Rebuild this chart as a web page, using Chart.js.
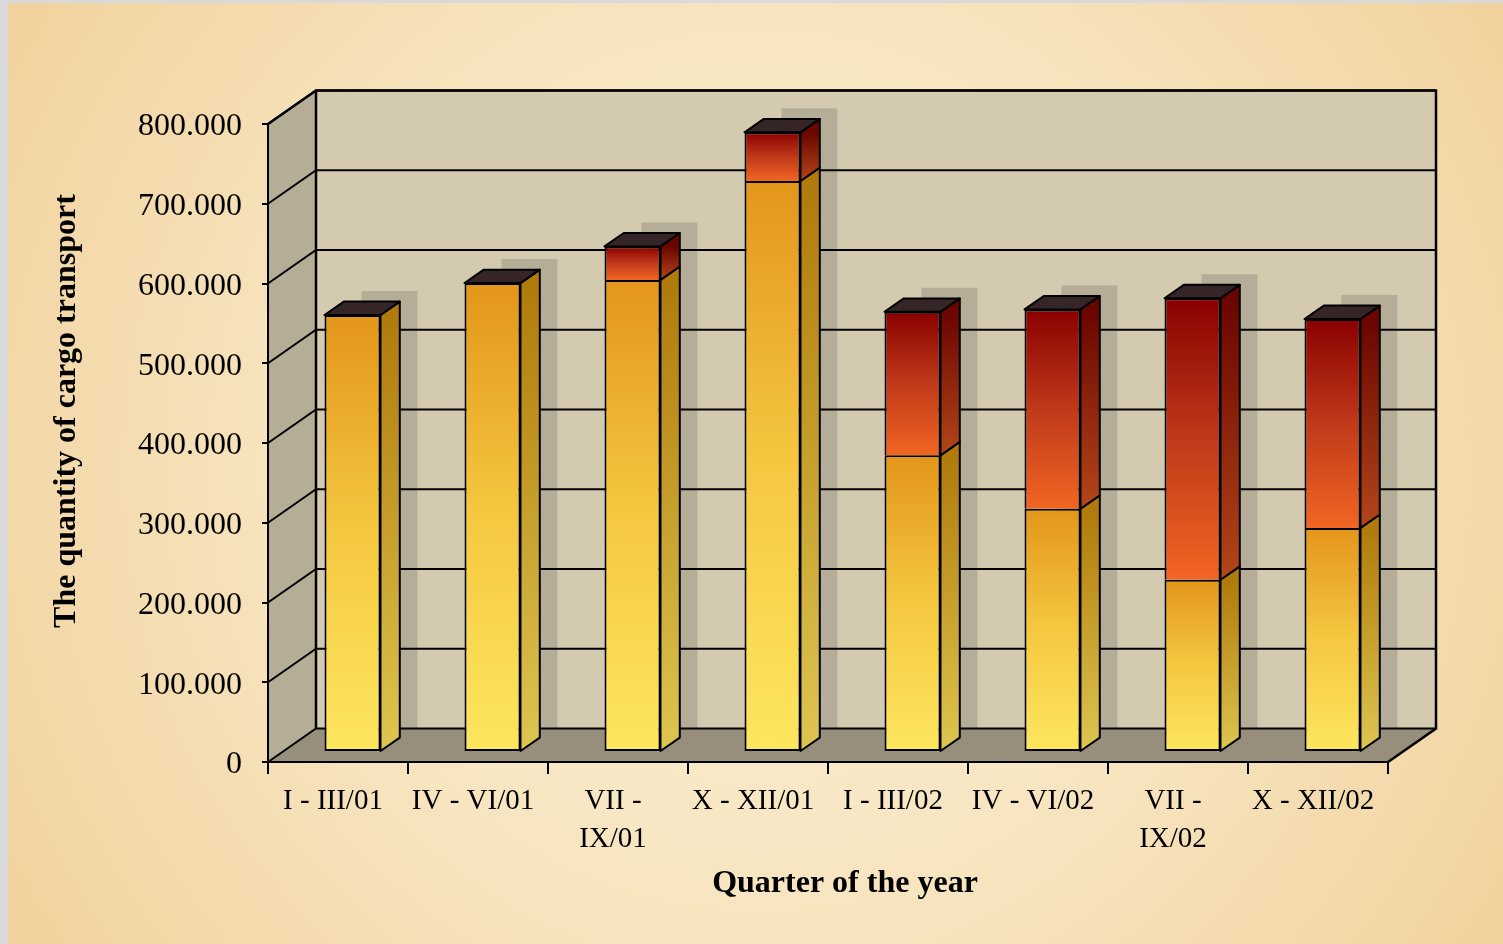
<!DOCTYPE html>
<html>
<head>
<meta charset="utf-8">
<title>Quantity of cargo transport by quarter</title>
<script src="https://cdn.jsdelivr.net/npm/chart.js@4.4.1/dist/chart.umd.min.js"></script>
<style>
    html, body { margin: 0; padding: 0; background: #d9d9d9; }
    #cargoChart { display: block; }
</style>
</head>
<body>
<canvas id="cargoChart" width="1503" height="944"></canvas>
<script>
// quarters, the two long ones wrap onto a second line
const quarters = [
    'I - III/01', 'IV - VI/01', ['VII -', 'IX/01'], 'X - XII/01',
    'I - III/02', 'IV - VI/02', ['VII -', 'IX/02'], 'X - XII/02'
];
// lower (yellow) and upper (red) part of every bar
const lowerPart = [548000, 588000, 592000, 716000, 372000, 305000, 216000, 281000];
const upperPart = [0, 0, 42000, 61000, 180000, 250000, 353000, 262000];
const yTicks = [0, 100000, 200000, 300000, 400000, 500000, 600000, 700000, 800000];

const FONT = "'Times New Roman', 'Liberation Serif', serif";

// fake 3D: depth of the box, where the bars stand in it and how thick they are
const DEPTH = { x: 48, y: -33.5 };
const BAR_SHIFT = { x: 14.5, y: -10 };
const BAR_DEPTH = { x: 19.3, y: -13.4 };
const SHADOW_SHIFT = { x: 37, y: -24 };

const faceColors = [
    { front: ['#fde65f', '#f5c840', '#e3961a'], side: ['#ddc650', '#b07a0c'] },
    { front: ['#f26522', '#c0391a', '#8a0000'], side: ['#b4461a', '#6a0500'] }
];

function formatTick(v) {
    if (v === 0) return '0';
    return Math.round(v / 1000) + '.000';
}

function segmentBounds(datasetIndex, index) {
    const bottom = datasetIndex === 0 ? 0 : lowerPart[index];
    const value = datasetIndex === 0 ? lowerPart[index] : upperPart[index];
    return { bottom, top: bottom + value };
}

function frontGradient(context) {
    const chart = context.chart;
    if (!chart.chartArea) return faceColors[context.datasetIndex].front[0];
    const y = chart.scales.y;
    const seg = segmentBounds(context.datasetIndex, context.dataIndex);
    const cols = faceColors[context.datasetIndex].front;
    const g = chart.ctx.createLinearGradient(0, y.getPixelForValue(seg.bottom), 0, y.getPixelForValue(seg.top));
    g.addColorStop(0, cols[0]);
    g.addColorStop(0.5, cols[1]);
    g.addColorStop(1, cols[2]);
    return g;
}

// front face of one bar segment, moved back into the box
function barBox(el) {
    return {
        left: el.x - el.width / 2 + BAR_SHIFT.x,
        right: el.x + el.width / 2 + BAR_SHIFT.x,
        top: Math.min(el.y, el.base) + BAR_SHIFT.y,
        bottom: Math.max(el.y, el.base) + BAR_SHIFT.y
    };
}

function polygon(ctx, pts, fill, stroke) {
    ctx.beginPath();
    ctx.moveTo(pts[0][0], pts[0][1]);
    for (let i = 1; i < pts.length; i++) ctx.lineTo(pts[i][0], pts[i][1]);
    ctx.closePath();
    if (fill) {
        ctx.fillStyle = fill;
        ctx.fill();
    }
    if (stroke) {
        ctx.strokeStyle = stroke;
        ctx.stroke();
    }
}

function line(ctx, pts) {
    ctx.beginPath();
    ctx.moveTo(pts[0][0], pts[0][1]);
    for (let i = 1; i < pts.length; i++) ctx.lineTo(pts[i][0], pts[i][1]);
    ctx.stroke();
}

// topmost non-empty segment of a category
function topElement(chart, index) {
    for (let d = chart.data.datasets.length - 1; d >= 0; d--) {
        const el = chart.getDatasetMeta(d).data[index];
        if (el && Math.abs(el.base - el.y) > 0.5) return el;
    }
    return null;
}

const box3d = {
    id: 'box3d',
    beforeDraw(chart) {
        const { ctx, chartArea: a, width, height } = chart;
        const yScale = chart.scales.y;
        const dx = DEPTH.x, dy = DEPTH.y;
        ctx.save();

        // page background with the grey frame
        ctx.fillStyle = '#d9d9d9';
        ctx.fillRect(0, 0, width, height);
        const bg = ctx.createRadialGradient(760, 470, 0, 760, 470, 900);
        bg.addColorStop(0, '#faeed4');
        bg.addColorStop(0.5, '#f7e5c0');
        bg.addColorStop(1, '#f1d19c');
        ctx.fillStyle = bg;
        ctx.fillRect(8, 3, width - 8, height - 3);

        // walls and floor
        polygon(ctx, [[a.left, a.top], [a.left + dx, a.top + dy], [a.left + dx, a.bottom + dy], [a.left, a.bottom]], '#b5ad96');
        ctx.fillStyle = '#d3cab0';
        ctx.fillRect(a.left + dx, a.top + dy, a.right - a.left, a.bottom - a.top);
        polygon(ctx, [[a.left, a.bottom], [a.right, a.bottom], [a.right + dx, a.bottom + dy], [a.left + dx, a.bottom + dy]], '#978f7c');

        // bar shadows on the back wall
        ctx.save();
        ctx.beginPath();
        ctx.rect(a.left + dx, a.top + dy, a.right - a.left, a.bottom - a.top);
        ctx.clip();
        ctx.fillStyle = '#b5ad97';
        quarters.forEach((q, i) => {
            const el = topElement(chart, i);
            if (!el) return;
            const b = barBox(el);
            const top = b.top + SHADOW_SHIFT.y;
            ctx.fillRect(b.left + SHADOW_SHIFT.x, top, b.right - b.left, a.bottom + dy - top);
        });
        ctx.restore();

        // grid lines on the left and back wall
        ctx.strokeStyle = '#000';
        ctx.lineWidth = 2;
        yTicks.forEach(v => {
            const py = yScale.getPixelForValue(v);
            line(ctx, [[a.left, py], [a.left + dx, py + dy], [a.right + dx, py + dy]]);
        });

        // outline of the box
        ctx.lineWidth = 2.5;
        line(ctx, [[a.left, a.top], [a.left + dx, a.top + dy], [a.right + dx, a.top + dy], [a.right + dx, a.bottom + dy], [a.right, a.bottom]]);
        line(ctx, [[a.left + dx, a.top + dy], [a.left + dx, a.bottom + dy]]);
        ctx.restore();
    },
    beforeDatasetsDraw(chart) {
        chart.ctx.save();
        chart.ctx.translate(BAR_SHIFT.x, BAR_SHIFT.y);
    },
    afterDatasetsDraw(chart) {
        const ctx = chart.ctx;
        ctx.restore();
        ctx.save();
        ctx.lineWidth = 2;
        ctx.lineJoin = 'round';
        const bx = BAR_DEPTH.x, by = BAR_DEPTH.y;

        // right hand sides of every segment
        chart.data.datasets.forEach((ds, d) => {
            chart.getDatasetMeta(d).data.forEach(el => {
                if (Math.abs(el.base - el.y) < 0.5) return;
                const b = barBox(el);
                const g = ctx.createLinearGradient(0, b.bottom, 0, b.top);
                g.addColorStop(0, faceColors[d].side[0]);
                g.addColorStop(1, faceColors[d].side[1]);
                polygon(ctx, [[b.right, b.top], [b.right + bx, b.top + by], [b.right + bx, b.bottom + by], [b.right, b.bottom]], g, '#000');
            });
        });

        // lid on top of each bar
        quarters.forEach((q, i) => {
            const el = topElement(chart, i);
            if (!el) return;
            const b = barBox(el);
            polygon(ctx, [[b.left, b.top], [b.left + bx, b.top + by], [b.right + bx, b.top + by], [b.right, b.top]], '#362526', '#000');
        });
        ctx.restore();
    },
    afterDraw(chart) {
        const ctx = chart.ctx;
        ctx.save();
        ctx.fillStyle = '#000';
        ctx.font = 'bold 32px ' + FONT;
        ctx.textAlign = 'center';
        ctx.textBaseline = 'middle';
        ctx.fillText('Quarter of the year', 845, 884);
        ctx.translate(67, 411);
        ctx.rotate(-Math.PI / 2);
        ctx.fillText('The quantity of cargo transport', 0, 0);
        ctx.restore();
    }
};

const barStyle = {
    categoryPercentage: 1,
    barPercentage: 0.4,
    backgroundColor: frontGradient,
    borderColor: '#000',
    borderWidth: 2,
    clip: false
};

new Chart(document.getElementById('cargoChart'), {
    type: 'bar',
    data: {
        labels: quarters,
        datasets: [
            Object.assign({ label: 'Lower part', data: lowerPart, borderSkipped: false }, barStyle),
            Object.assign({ label: 'Upper part', data: upperPart, borderSkipped: 'start' }, barStyle)
        ]
    },
    options: {
        responsive: false,
        animation: false,
        layout: { padding: { left: 0, top: 124, right: 115, bottom: 0 } },
        plugins: {
            legend: { display: false },
            tooltip: { enabled: false }
        },
        scales: {
            x: {
                stacked: true,
                grid: { display: true, drawOnChartArea: false, drawTicks: true, tickLength: 12, color: '#000', lineWidth: 2, offset: true },
                border: { display: true, color: '#000', width: 2 },
                ticks: {
                    color: '#000',
                    font: { family: FONT, size: 29, lineHeight: 1.3 },
                    padding: 9,
                    labelOffset: -5,
                    maxRotation: 0,
                    autoSkip: false
                },
                afterFit: s => { s.height = 182; }
            },
            y: {
                stacked: true,
                min: 0,
                max: 800000,
                afterBuildTicks: s => { s.ticks = yTicks.map(v => ({ value: v })); },
                grid: { display: true, drawOnChartArea: false, drawTicks: true, tickLength: 6, color: '#000', lineWidth: 2 },
                border: { display: true, color: '#000', width: 2 },
                ticks: {
                    color: '#000',
                    font: { family: FONT, size: 32 },
                    padding: 20,
                    labelOffset: 3,
                    callback: v => formatTick(v)
                },
                afterFit: s => { s.width = 268; }
            }
        }
    },
    plugins: [box3d]
});
</script>
</body>
</html>
